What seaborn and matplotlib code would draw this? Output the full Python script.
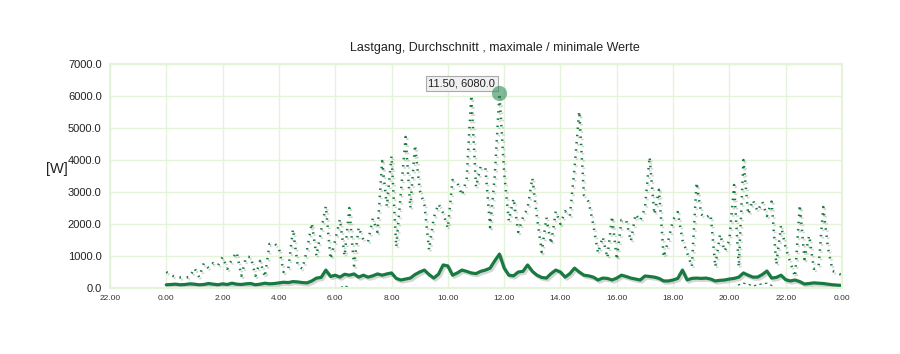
import numpy as np
import pandas as pd
import matplotlib
matplotlib.use("Agg")
import matplotlib.pyplot as plt
import matplotlib.patheffects as pe
import seaborn as sns

# 10-minute steps from 0:00 to 24:00
hours = np.arange(145) / 6

max_w = [
    500, 400, 340, 330, 330, 340,
    620, 340, 780, 620, 780, 700,
    970, 600, 900, 1120, 380, 970,
    970, 380, 850, 340, 1380, 1400,
    1250, 500, 600, 1840, 700, 600,
    1200, 2030, 1000, 1800, 2560, 900,
    1500, 2150, 1000, 2500, 700, 1900,
    1500, 1450, 2170, 1750, 3970, 2550,
    4125, 1280, 3000, 4720, 2500, 4470,
    3060, 2600, 1190, 2200, 2630, 2340,
    1870, 3375, 3300, 2900, 3400, 6030,
    3150, 3800, 3750, 1900, 3500, 6080,
    3600, 2100, 2800, 1750, 2200, 2500,
    3440, 2200, 1120, 2200, 1375, 2400,
    2000, 2400, 2250, 3750, 5530, 2900,
    2700, 1970, 1090, 1600, 940, 2250,
    880, 2125, 2125, 1460, 2310, 2100,
    2500, 4100, 2300, 3070, 960, 1500,
    2130, 2375, 1500, 1100, 670, 3300,
    2300, 2200, 2300, 660, 1680, 1150,
    1500, 3220, 660, 4000, 2300, 2750,
    2400, 2700, 2250, 2700, 730, 1950,
    1250, 800, 350, 2600, 900, 1640,
    600, 650, 2530, 1260, 530, 470,
    400,
]

avg_w = [
    100, 110, 120, 100, 110, 130,
    120, 100, 110, 140, 120, 100,
    130, 110, 150, 120, 110, 130,
    140, 100, 120, 150, 130, 140,
    160, 180, 170, 200, 190, 170,
    160, 220, 310, 330, 560, 360,
    400, 340, 430, 400, 440, 340,
    400, 340, 380, 440, 400, 440,
    470, 300, 250, 280, 310, 420,
    500, 560, 420, 310, 430, 720,
    690, 400, 470, 560, 520, 470,
    450, 520, 560, 620, 850, 1060,
    620, 400, 380, 500, 520, 720,
    520, 400, 330, 310, 450, 560,
    500, 340, 450, 620, 500, 400,
    380, 340, 250, 310, 300, 250,
    310, 400, 360, 310, 280, 250,
    375, 360, 340, 300, 220, 220,
    250, 300, 560, 250, 300, 310,
    300, 310, 280, 220, 240, 250,
    280, 300, 340, 470, 400, 340,
    340, 420, 530, 310, 330, 400,
    260, 220, 250, 200, 125, 140,
    160, 150, 140, 120, 100, 90,
    80,
]

min_w = [0] * 145
min_w[38] = 80
min_w[122] = 100
min_w[123] = 150
min_w[124] = 120
min_w[125] = 60
min_w[126] = 100
min_w[127] = 130
min_w[128] = 150
min_w[129] = 80

tick_pos = [-2, 0, 2, 4, 6, 8, 10, 12, 14, 16, 18, 20, 22, 24]
tick_labels = ["22.00", "0.00", "2.00", "4.00", "6.00", "8.00", "10.00",
               "12.00", "14.00", "16.00", "18.00", "20.00", "22.00", "0.00"]
y_ticks = [0, 1000, 2000, 3000, 4000, 5000, 6000, 7000]

df = pd.DataFrame({"h": hours, "max": max_w, "avg": avg_w, "min": min_w})

sns.set_style("white")
plt.rcParams["font.family"] = ["Liberation Sans Narrow", "Liberation Sans", "DejaVu Sans"]

green = "#177a40"
grid_c = "#e4f3da"
shadow = [pe.SimpleLineShadow(offset=(1.2, -1.5), shadow_color="#888888", alpha=0.35), pe.Normal()]

fig = plt.figure(figsize=(9, 3.54), dpi=100)
ax = fig.add_axes([110 / 900, 66 / 354, 732 / 900, 224 / 354])

sns.lineplot(data=df, x="h", y="max", ax=ax, color=green, lw=1.8,
             linestyle=(0, (0.6, 2.3)), path_effects=shadow)
sns.lineplot(data=df, x="h", y="avg", ax=ax, color=green, lw=2.3, path_effects=shadow)
sns.lineplot(data=df, x="h", y="min", ax=ax, color=green, lw=0.9,
             linestyle=(0, (2, 2.5)))

ax.set_xlim(-2, 24)
ax.set_ylim(0, 7000)
ax.set_xticks(tick_pos)
ax.set_xticklabels(tick_labels, fontsize=6, color="#333333")
ax.set_yticks(y_ticks)
ax.set_yticklabels([f"{v:.1f}" for v in y_ticks], fontsize=8, color="#222222")
ax.tick_params(axis="y", length=0, pad=6)
ax.tick_params(axis="x", length=0, pad=5)
ax.grid(True, color=grid_c, lw=1)
for s in ax.spines.values():
    s.set_color(grid_c)
    s.set_linewidth(1.5)
ax.set_xlabel(None)
ax.set_ylabel("[W]", fontsize=10.5, rotation=0, color="#222222")
ax.yaxis.set_label_coords(-0.072, 0.5)

# tooltip on the daily maximum
i_peak = int(np.argmax(max_w))
ax.scatter([hours[i_peak]], [max_w[i_peak]], s=120, color="#2e8b57", alpha=0.6, zorder=5, lw=0)
ax.annotate(f"11.50, {max_w[i_peak]:.1f}", (hours[i_peak], max_w[i_peak]),
            xytext=(-3, 7), textcoords="offset points", ha="right", va="center",
            fontsize=8, color="#222222",
            bbox=dict(boxstyle="square,pad=0.25", fc="#f0f0f0", ec="#aaaaaa", lw=0.8))

fig.text(495 / 900, 1 - 48 / 354, "Lastgang, Durchschnitt , maximale / minimale Werte",
         ha="center", va="center", fontsize=9, color="#222222")

fig.savefig("out.png", dpi=100)
